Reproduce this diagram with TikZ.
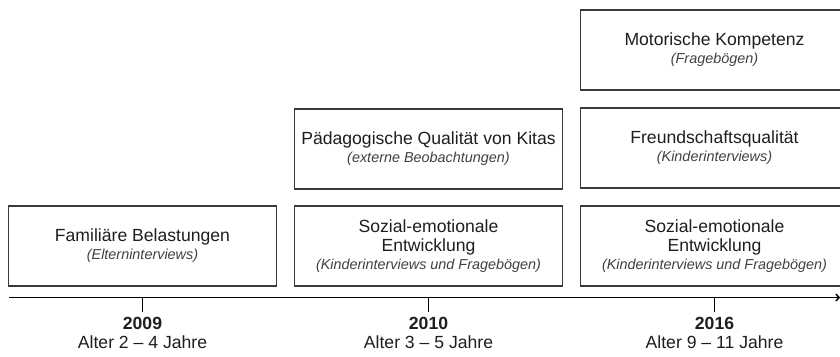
\documentclass[tikz,border=0pt]{standalone}
\usepackage{fontspec}
\setmainfont{Liberation Sans}
\usetikzlibrary{arrows.meta}
\definecolor{boxline}{HTML}{3A3A3A}
\definecolor{txt}{HTML}{1E1E1E}
\definecolor{subtxt}{HTML}{404040}
\newcommand{\mainf}{\fontsize{17.6}{19}\selectfont}
\newcommand{\subf}[1]{{\fontsize{14.4}{19}\selectfont\itshape\color{subtxt}#1}}
\tikzset{
  stagebox/.style={draw=boxline, line width=1.4pt, rectangle, minimum width=268pt, minimum height=80pt,
    inner sep=0pt, align=center, text=txt, font=\mainf},
  yearlabel/.style={align=center, text=txt, font=\mainf, inner sep=0pt},
  axisline/.style={line width=1.5pt, black},
}
\begin{document}
\begin{tikzpicture}[x=1pt,y=-1pt]
\useasboundingbox (0,0) rectangle (840,356);
% boxes
\node[stagebox] (fam) at (142.5,246) {Familiäre Belastungen\\[-1pt]\subf{(Elterninterviews)}};
\node[stagebox] (paed) at (428.5,149) {Pädagogische Qualität von Kitas\\[-1pt]\subf{(externe Beobachtungen)}};
\node[stagebox] (soz1) at (428.5,246) {Sozial-emotionale\\Entwicklung\\[-1pt]\subf{(Kinderinterviews und Fragebögen)}};
\node[stagebox] (mot) at (714.5,50) {Motorische Kompetenz\\[-1pt]\subf{(Fragebögen)}};
\node[stagebox] (freund) at (714.5,148) {Freundschaftsqualität\\[-1pt]\subf{(Kinderinterviews)}};
\node[stagebox] (soz2) at (714.5,246) {Sozial-emotionale\\Entwicklung\\[-1pt]\subf{(Kinderinterviews und Fragebögen)}};
% axis
\coordinate (axL) at (9,297.5);
\coordinate (axR) at (840,297.5);
\draw[axisline, -{Straight Barb[length=3pt,width=7pt]}] (axL) -- (axR);
\coordinate (t1) at (142.5,297.5);
\coordinate (t2) at (428.5,297.5);
\coordinate (t3) at (714.5,297.5);
\coordinate (t1e) at (142.5,312);
\coordinate (t2e) at (428.5,312);
\coordinate (t3e) at (714.5,312);
\draw[axisline] (t1) -- (t1e);
\draw[axisline] (t2) -- (t2e);
\draw[axisline] (t3) -- (t3e);
% labels
\node[yearlabel] (y1) at (142.5,333) {\textbf{2009}\\Alter 2 – 4 Jahre};
\node[yearlabel] (y2) at (428.5,333) {\textbf{2010}\\Alter 3 – 5 Jahre};
\node[yearlabel] (y3) at (714.5,333) {\textbf{2016}\\Alter 9 – 11 Jahre};
\end{tikzpicture}
\end{document}
